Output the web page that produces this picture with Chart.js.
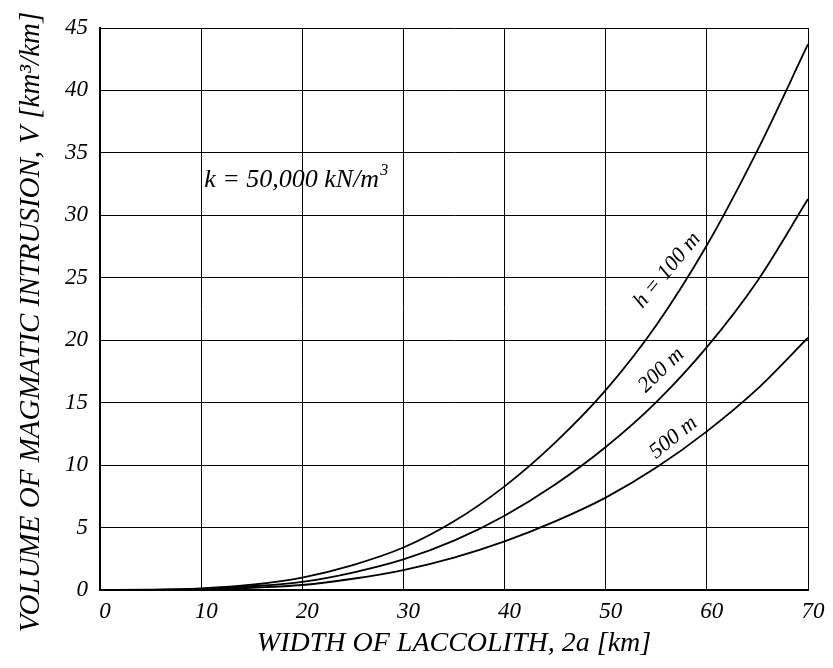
<!DOCTYPE html>
<html>
<head>
<meta charset="utf-8">
<script src="https://cdn.jsdelivr.net/npm/chart.js@4"></script>
<style>
	body { margin: 0; background: #fff; }
	#chart { display: block; }
</style>
</head>
<body>
<canvas id="chart" width="833" height="668"></canvas>
<script>
// laccolith width 2a [km]
const widths = [0, 5, 10, 15, 20, 25, 30, 35, 40, 45, 50, 55, 60, 65, 70]
// volume V [km3/km]
const h100 = [0, 0.02, 0.13, 0.42, 1.0, 2.0, 3.4, 5.5, 8.3, 11.8, 16.0, 21.2, 27.6, 35.2, 43.7]
const h200 = [0, 0.01, 0.09, 0.3, 0.65, 1.4, 2.45, 3.95, 5.95, 8.45, 11.45, 15.05, 19.45, 24.75, 31.3]
const h500 = [0, 0.01, 0.05, 0.18, 0.4, 0.9, 1.6, 2.6, 3.9, 5.5, 7.4, 9.8, 12.7, 16.1, 20.2]

const curveLabels = [
	{ text: 'h = 100 m', x: 56.1, y: 25.6, angle: -50 },
	{ text: '200 m', x: 55.5, y: 17.6, angle: -44 },
	{ text: '500 m', x: 56.7, y: 12.2, angle: -39 },
]

const yTitle = 'VOLUME OF MAGMATIC INTRUSION, V [km³/km]'
const serif = '"Liberation Serif", "DejaVu Serif", serif'

function points(ys) {
	return widths.map((w, i) => ({ x: w, y: ys[i] }))
}

function curve(label, ys) {
	return {
		label: label,
		data: points(ys),
		borderColor: '#000',
		borderWidth: 1.8,
		pointRadius: 0,
		cubicInterpolationMode: 'monotone',
		fill: false,
	}
}

const textPlugin = {
	id: 'texts',
	afterDatasetsDraw(chart) {
		const ctx = chart.ctx
		const xs = chart.scales.x
		const ys = chart.scales.y
		ctx.save()
		ctx.fillStyle = '#000'
		// k annotation
		ctx.font = 'italic 26px ' + serif
		ctx.textAlign = 'left'
		ctx.textBaseline = 'alphabetic'
		const kx = xs.getPixelForValue(10.3)
		const ky = ys.getPixelForValue(32.3)
		const main = 'k = 50,000 kN/m'
		ctx.fillText(main, kx, ky)
		const w = ctx.measureText(main).width
		ctx.font = 'italic 16px ' + serif
		ctx.fillText('3', kx + w + 1, ky - 12)
		// curve labels
		ctx.font = 'italic 22px ' + serif
		ctx.textAlign = 'center'
		ctx.textBaseline = 'middle'
		for (const l of curveLabels) {
			ctx.save()
			ctx.translate(xs.getPixelForValue(l.x), ys.getPixelForValue(l.y))
			ctx.rotate(l.angle * Math.PI / 180)
			ctx.fillText(l.text, 0, 0)
			ctx.restore()
		}
		// y axis title
		ctx.save()
		ctx.font = 'italic 29px ' + serif
		ctx.translate(31, 322)
		ctx.rotate(-Math.PI / 2)
		ctx.fillText(yTitle, 0, 0)
		ctx.restore()
		ctx.restore()
	}
}

new Chart(document.getElementById('chart'), {
	type: 'line',
	data: {
		datasets: [
			curve('h = 100 m', h100),
			curve('200 m', h200),
			curve('500 m', h500),
		],
	},
	options: {
		responsive: false,
		animation: false,
		layout: { padding: { top: 28, right: 25, left: 0, bottom: 0 } },
		plugins: {
			legend: { display: false },
			tooltip: { enabled: false },
		},
		scales: {
			x: {
				type: 'linear',
				min: 0,
				max: 70,
				afterFit: (s) => { s.height = 78 },
				border: { color: '#000', width: 2 },
				grid: { color: '#000', lineWidth: 1, drawTicks: false },
				ticks: {
					stepSize: 10,
					color: '#000',
					padding: 8,
					labelOffset: 5,
					font: { family: serif, size: 23, style: 'italic' },
				},
				title: {
					display: true,
					text: 'WIDTH OF LACCOLITH, 2a [km]',
					color: '#000',
					padding: { top: 0, bottom: 8 },
					font: { family: serif, size: 28, style: 'italic' },
				},
			},
			y: {
				min: 0,
				max: 45,
				afterFit: (s) => { s.width = 100 },
				border: { color: '#000', width: 2 },
				grid: { color: '#000', lineWidth: 1, drawTicks: false },
				ticks: {
					stepSize: 5,
					color: '#000',
					padding: 12,
					font: { family: serif, size: 23, style: 'italic' },
				},
				title: { display: false },
			},
		},
	},
	plugins: [textPlugin],
})
</script>
</body>
</html>
